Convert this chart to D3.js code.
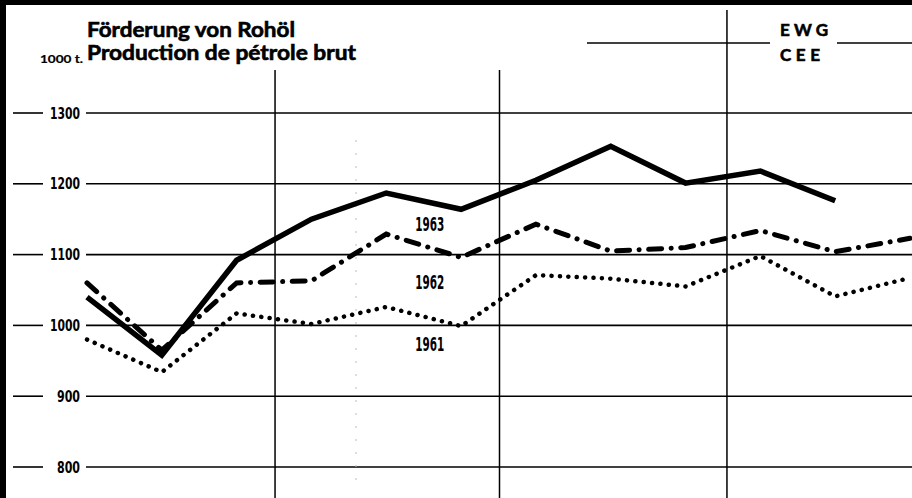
<!DOCTYPE html>
<html>
<head>
<meta charset="utf-8">
<script src="https://cdn.jsdelivr.net/npm/d3@7"></script>
<style>
	body { margin: 0; background: #fff; }
	svg { display: block; }
	.title { font-family: Lato, 'Open Sans', sans-serif; font-weight: bold; fill: #000; stroke: #000; stroke-width: 0.6; }
	.narrow { font-family: 'Liberation Sans Narrow', 'DejaVu Sans Condensed', sans-serif; font-weight: bold; fill: #000; }
</style>
</head>
<body>
<svg width="912" height="498"></svg>
<script>
'use strict';

// Monthly crude oil production, EEC, 1000 t
const months = ['Jan', 'Feb', 'Mar', 'Apr', 'May', 'Jun', 'Jul', 'Aug', 'Sep', 'Oct', 'Nov', 'Dec']
const years = ['1963', '1962', '1961']
const v1963 = [1040, 958, 1092, 1150, 1187, 1164, 1205, 1253, 1201, 1218, 1176, null]
const v1962 = [1060, 965, 1060, 1063, 1129, 1096, 1143, 1105, 1110, 1134, 1104, 1123]
const v1961 = [980, 934, 1017, 1002, 1026, 999, 1071, 1066, 1055, 1098, 1041, 1067]
const yTicks = [800, 900, 1000, 1100, 1200, 1300]

const W = 912, H = 498
const svg = d3.select('svg')

const x = d3.scalePoint().domain(months).range([87, 910])
const y = d3.scaleLinear().domain([800, 1300]).range([467, 113])

// scan border
svg.append('rect').attr('x', 0).attr('y', 0).attr('width', W).attr('height', 5).attr('fill', '#000')
svg.append('rect').attr('x', 0).attr('y', 0).attr('width', 6).attr('height', H).attr('fill', '#000')

// horizontal grid
let grid = svg.append('g')
grid.selectAll('line.grid').data(yTicks).enter().append('line')
	.attr('x1', 86).attr('x2', W)
	.attr('y1', (d) => y(d)).attr('y2', (d) => y(d))
	.attr('stroke', '#000').attr('stroke-width', 1.6)
grid.selectAll('line.mark').data(yTicks).enter().append('line')
	.attr('x1', 13).attr('x2', 43)
	.attr('y1', (d) => y(d)).attr('y2', (d) => y(d))
	.attr('stroke', '#000').attr('stroke-width', 1.6)

// tick labels through an axis
let axis = svg.append('g').attr('transform', 'translate(86,0)')
	.call(d3.axisLeft(y).tickValues(yTicks).tickSize(0).tickPadding(6).tickFormat(d3.format('d')))
axis.select('.domain').remove()
axis.selectAll('text').attr('font-size', 16).attr('font-weight', 'bold')
	.attr('fill', '#000').attr('font-family', "'Liberation Sans Narrow', 'DejaVu Sans Condensed', sans-serif")
	.attr('textLength', (d) => d >= 1000 ? 30 : 23).attr('lengthAdjust', 'spacingAndGlyphs')

// quarter separators
const quarters = [[2, 70, 1], [5, 70, 1], [8, 10, 4]]
quarters.forEach((q) => {
	const qx = (x(months[q[0]]) + x(months[q[0] + 1])) / 2 + q[2]
	svg.append('line')
		.attr('x1', qx).attr('x2', qx).attr('y1', q[1]).attr('y2', H)
		.attr('stroke', '#000').attr('stroke-width', 1.5)
})
// faint scan streak
svg.append('line').attr('x1', 356).attr('x2', 356).attr('y1', 140).attr('y2', 490)
	.attr('stroke', '#bbb').attr('stroke-width', 1).attr('stroke-dasharray', '2,11')

// series
const series = [
	{ name: '1963', values: v1963, width: 5.5, dash: null, cap: 'butt' },
	{ name: '1962', values: v1962, width: 5, dash: '13,9.5,0.1,9.5', cap: 'round' },
	{ name: '1961', values: v1961, width: 4.5, dash: '0.1,8.3', cap: 'round' },
]
const line = d3.line()
	.defined((d) => d != null)
	.x((d, i) => x(months[i]))
	.y((d) => y(d))
svg.selectAll('path.series').data(series).enter().append('path')
	.attr('class', 'series')
	.attr('d', (d) => line(d.values))
	.attr('fill', 'none').attr('stroke', '#000')
	.attr('stroke-width', (d) => d.width)
	.attr('stroke-linecap', (d) => d.cap)
	.attr('stroke-linejoin', 'miter')
	.attr('stroke-dasharray', (d) => d.dash)

// year labels between May and Jun
const labelX = (x('May') + x('Jun')) / 2 + 6
const labelVals = { '1963': 1134, '1962': 1052, '1961': 964 }
svg.selectAll('text.year').data(years).enter().append('text')
	.attr('class', 'narrow year')
	.attr('x', labelX).attr('y', (d) => y(labelVals[d]))
	.attr('text-anchor', 'middle').attr('font-size', 20)
	.attr('textLength', 29).attr('lengthAdjust', 'spacingAndGlyphs')
	.text((d) => d)

// titles
svg.append('text').attr('class', 'title').attr('x', 87).attr('y', 37).attr('font-size', 20)
	.attr('textLength', 208).attr('lengthAdjust', 'spacingAndGlyphs')
	.text('Förderung von Rohöl')
svg.append('text').attr('class', 'title').attr('x', 87).attr('y', 60).attr('font-size', 20)
	.attr('textLength', 269).attr('lengthAdjust', 'spacingAndGlyphs')
	.text('Production de pétrole brut')
svg.append('text').attr('class', 'title').attr('x', 40).attr('y', 63).attr('font-size', 11)
	.style('stroke-width', 0.2)
	.attr('textLength', 43).attr('lengthAdjust', 'spacingAndGlyphs')
	.text('1000 t.')

// EWG / CEE legend
svg.append('line').attr('x1', 587).attr('x2', 770).attr('y1', 43).attr('y2', 43)
	.attr('stroke', '#000').attr('stroke-width', 1.4)
svg.append('line').attr('x1', 837).attr('x2', W).attr('y1', 43).attr('y2', 43)
	.attr('stroke', '#000').attr('stroke-width', 1.4)
svg.append('text').attr('class', 'title').attr('x', 780).attr('y', 36).attr('font-size', 17)
	.attr('textLength', 48).attr('lengthAdjust', 'spacing')
	.text('EWG')
svg.append('text').attr('class', 'title').attr('x', 780).attr('y', 61).attr('font-size', 17)
	.attr('textLength', 40).attr('lengthAdjust', 'spacing')
	.text('CEE')
</script>
</body>
</html>
